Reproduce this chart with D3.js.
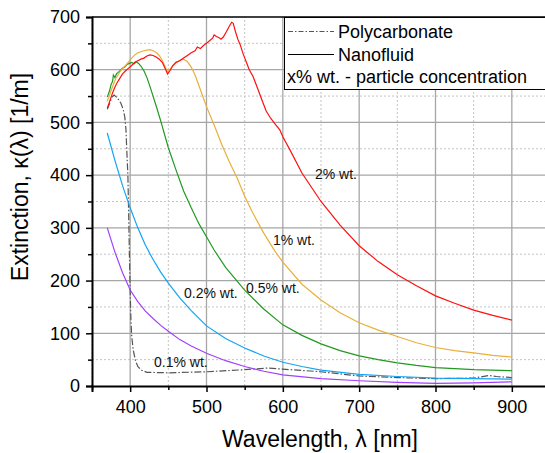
<!DOCTYPE html>
<html>
<head>
<meta charset="utf-8">
<script src="https://cdn.jsdelivr.net/npm/d3@7"></script>
<style>
  html, body { margin: 0; padding: 0; background: #fff; }
  svg { display: block; font-family: Arial, "Liberation Sans", sans-serif; }
</style>
</head>
<body>
<div id="chart"></div>
<script>
// values: [wavelength nm, extinction 1/m]
const polycarbonate = [[370,525],[373,536],[376,548],[379,552],[382,548],[385,543],[388,536],[391,524],[393,510],[394.5,486],[395.5,450],[397,400],[398,330],[399,250],[400,180],[401,125],[402,95],[404,68],[407,48],[410,37],[415,30],[422,26],[450,25],[500,27],[550,31],[580,34],[600,32],[650,27],[700,19],[750,16],[800,14],[850,15],[870,20],[880,18],[900,16]];
const wt01 = [[370,300],[380,254],[390,215],[400,182],[410,160],[420,142],[430,128],[440,115],[450,104],[465,88],[480,76],[500,62],[525,48],[550,37],[575,28],[600,21],[650,14],[700,10],[750,7],[800,5],[850,6],[900,8]];
const wt02 = [[370,480],[380,428],[390,380],[400,338],[410,300],[420,267],[430,240],[440,216],[450,195],[465,167],[480,143],[500,114],[525,90],[550,72],[575,57],[600,45],[625,37],[650,30],[700,22],[750,18],[800,15],[850,14],[900,13]];
const wt05 = [[370,548],[373,560],[375,572],[377,578],[378,590],[380,585],[382,592],[385,596],[388,600],[390,603],[393,605],[396,610],[399,612],[402,614],[405,611],[408,615],[411,612],[414,607],[418,598],[422,585],[426,568],[430,550],[435,527],[440,503],[450,452],[460,410],[470,370],[480,338],[490,308],[500,283],[510,258],[525,225],[550,182],[575,146],[600,116],[625,96],[650,80],[675,67],[700,57],[725,50],[750,44],[775,39],[800,35],[850,31],[900,29]];
const wt1 = [[370,540],[372,548],[375,560],[378,572],[381,583],[384,590],[387,597],[390,603],[394,608],[398,615],[402,622],[406,628],[410,632],[414,634],[418,636],[422,637],[426,638],[430,636],[434,633],[438,627],[442,618],[446,605],[449,596],[452,600],[456,608],[460,613],[465,618],[470,620],[475,615],[480,605],[485,590],[490,570],[495,550],[500,530],[510,495],[520,458],[530,425],[540,395],[550,360],[560,330],[575,290],[590,255],[600,235],[625,193],[650,163],[675,139],[700,120],[725,106],[750,94],[775,82],[800,73],[825,67],[850,63],[875,58],[900,55]];
const wt2 = [[370,527],[372,535],[375,548],[378,560],[381,570],[384,578],[387,585],[390,592],[394,598],[398,603],[402,608],[406,614],[410,617],[414,620],[418,622],[422,626],[426,628],[430,627],[434,624],[438,620],[442,614],[446,602],[449,592],[452,598],[456,608],[460,614],[465,617],[470,622],[475,627],[480,632],[485,636],[488,643],[492,640],[496,646],[500,650],[504,655],[508,660],[510,666],[513,663],[516,661],[519,658],[522,662],[526,672],[530,683],[533,690],[535,688],[538,672],[541,658],[544,648],[548,630],[552,615],[556,600],[561,587],[566,568],[572,545],[578,522],[584,508],[590,497],[596,486],[600,473],[610,446],[625,404],[650,350],[675,305],[700,266],[725,236],[750,211],[775,190],[800,171],[825,157],[850,144],[875,134],[900,125]];

const xTicks = [400, 500, 600, 700, 800, 900];
const xMinor = [350, 450, 550, 650, 750, 850, 950];
const yTicks = [0, 100, 200, 300, 400, 500, 600, 700];
const yMinor = [50, 150, 250, 350, 450, 550, 650];

const curves = [
  { name: 'poly', data: polycarbonate, color: '#555', dash: '7,2,1.5,2' },
  { name: '0.1', data: wt01, color: '#a040ff' },
  { name: '0.2', data: wt02, color: '#12a4f5' },
  { name: '0.5', data: wt05, color: '#1f9a1f' },
  { name: '1', data: wt1, color: '#e8b039' },
  { name: '2', data: wt2, color: '#ff1010' },
];

const labels = [
  { text: '2% wt.', x: 315, y: 179 },
  { text: '1% wt.', x: 273, y: 245 },
  { text: '0.5% wt.', x: 246, y: 293 },
  { text: '0.2% wt.', x: 184, y: 298 },
  { text: '0.1% wt.', x: 154, y: 367 },
];

const width = 545;
const height = 453;
const margin = { top: 17, left: 92, bottom: 67, right: -5 };

const svg = d3.select('#chart')
  .append('svg')
  .attr('width', width)
  .attr('height', height);

const x = d3.scaleLinear()
  .domain([350, 950])
  .range([margin.left, width - margin.right]);

const y = d3.scaleLinear()
  .domain([0, 700])
  .range([height - margin.bottom, margin.top]);

const grid = svg.append('g');

grid.selectAll('.vminor')
  .data(xMinor)
  .join('line')
    .attr('x1', d => x(d)).attr('x2', d => x(d))
    .attr('y1', y(0)).attr('y2', y(700))
    .attr('stroke', '#c4c4c4')
    .attr('stroke-dasharray', '2,2');

grid.selectAll('.hminor')
  .data(yMinor)
  .join('line')
    .attr('x1', x(350)).attr('x2', x(950))
    .attr('y1', d => y(d)).attr('y2', d => y(d))
    .attr('stroke', '#c4c4c4')
    .attr('stroke-dasharray', '2,2');

grid.selectAll('.vmajor')
  .data(xTicks)
  .join('line')
    .attr('x1', d => x(d)).attr('x2', d => x(d))
    .attr('y1', y(0)).attr('y2', y(700))
    .attr('stroke', '#a6a6a6')
    .attr('stroke-width', 1.3);

grid.selectAll('.hmajor')
  .data(yTicks.slice(1, -1))
  .join('line')
    .attr('x1', x(350)).attr('x2', x(950))
    .attr('y1', d => y(d)).attr('y2', d => y(d))
    .attr('stroke', '#a6a6a6')
    .attr('stroke-width', 1.3);

const line = d3.line()
  .x(d => x(d[0]))
  .y(d => y(d[1]));

svg.append('g')
  .selectAll('path')
  .data(curves)
  .join('path')
    .attr('d', d => line(d.data))
    .attr('fill', 'none')
    .attr('stroke', d => d.color)
    .attr('stroke-width', 1.2)
    .attr('stroke-dasharray', d => d.dash || null);

svg.append('g')
  .selectAll('text')
  .data(labels)
  .join('text')
    .attr('x', d => d.x)
    .attr('y', d => d.y)
    .attr('font-size', 14)
    .attr('fill', '#111')
    .text(d => d.text);

// axes
const xAxis = svg.append('g')
  .attr('transform', `translate(0,${y(0)})`)
  .call(d3.axisBottom(x).tickValues(xTicks).tickSize(6).tickPadding(8).tickFormat(d3.format('d')));

svg.append('g')
  .attr('transform', `translate(0,${y(0)})`)
  .call(d3.axisBottom(x).tickValues(xMinor).tickSize(4).tickFormat(''))
  .call(g => g.select('.domain').remove());

const yAxis = svg.append('g')
  .attr('transform', `translate(${x(350)},0)`)
  .call(d3.axisLeft(y).tickValues(yTicks).tickSize(6).tickPadding(6));

svg.append('g')
  .attr('transform', `translate(${x(350)},0)`)
  .call(d3.axisLeft(y).tickValues(yMinor).tickSize(4).tickFormat(''))
  .call(g => g.select('.domain').remove());

[xAxis, yAxis].forEach(g => {
  g.select('.domain').attr('stroke', '#000').attr('stroke-width', 2);
  g.selectAll('.tick text')
    .attr('font-size', 18)
    .attr('fill', '#000')
    .attr('font-family', 'Arial, "Liberation Sans", sans-serif');
});

svg.selectAll('.tick line').attr('stroke', '#000').attr('stroke-width', 1.5);

// top frame
svg.append('line')
  .attr('x1', x(350)).attr('x2', x(950))
  .attr('y1', y(700)).attr('y2', y(700))
  .attr('stroke', '#000')
  .attr('stroke-width', 1.5);

// legend
const legend = svg.append('g');

legend.append('rect')
  .attr('x', 284.5)
  .attr('y', 17.5)
  .attr('width', 280)
  .attr('height', 72)
  .attr('fill', '#fff')
  .attr('stroke', '#000')
  .attr('stroke-width', 1);

legend.append('line')
  .attr('x1', 288).attr('x2', 334)
  .attr('y1', 31.5).attr('y2', 31.5)
  .attr('stroke', '#555')
  .attr('stroke-width', 1)
  .attr('stroke-dasharray', '5,2,1.5,2');

legend.append('line')
  .attr('x1', 288).attr('x2', 334)
  .attr('y1', 54.5).attr('y2', 54.5)
  .attr('stroke', '#000')
  .attr('stroke-width', 1);

legend.append('text')
  .attr('x', 338).attr('y', 37.5)
  .attr('font-size', 18)
  .text('Polycarbonate');

legend.append('text')
  .attr('x', 338).attr('y', 60.5)
  .attr('font-size', 18)
  .text('Nanofluid');

legend.append('text')
  .attr('x', 287).attr('y', 82.5)
  .attr('font-size', 18)
  .text('x% wt. - particle concentration');

// axis titles
svg.append('text')
  .attr('x', 320)
  .attr('y', 447)
  .attr('text-anchor', 'middle')
  .attr('font-size', 23)
  .text('Wavelength, λ [nm]');

svg.append('text')
  .attr('transform', 'translate(28,177) rotate(-90)')
  .attr('text-anchor', 'middle')
  .attr('font-size', 23)
  .text('Extinction, κ(λ) [1/m]');
</script>
</body>
</html>
